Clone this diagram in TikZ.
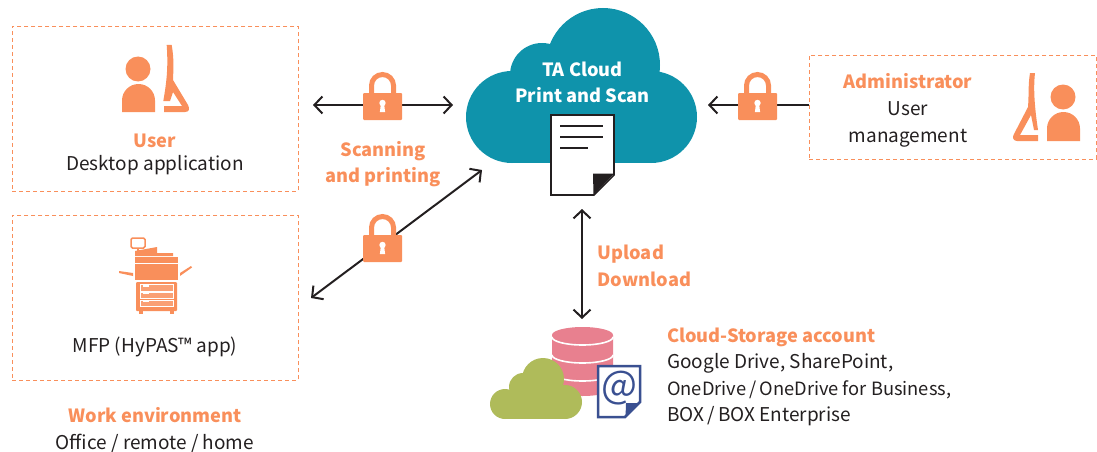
\documentclass[tikz,border=0pt]{standalone}
\usepackage{fontspec}
\setmainfont{Noto Sans CJK JP}
\usetikzlibrary{arrows.meta}
\definecolor{org}{HTML}{F98F5B}
\definecolor{tealc}{HTML}{0F93AB}
\definecolor{pinkc}{HTML}{E8808F}
\definecolor{greenc}{HTML}{AFBB5A}
\definecolor{bluec}{HTML}{3A5091}
\definecolor{inkc}{HTML}{231F20}
\newcommand{\lockicon}[2]{%
  \begin{scope}[shift={(#1,#2)}]
    \draw[org,line width=5pt] (-11,-10) -- (-11,-19.5) arc[start angle=180,end angle=360,radius=11] -- (11,-10);
    \fill[org,rounded corners=1pt] (-19.5,-12) rectangle (19.5,15);
    \fill[white] (0,-2) circle[radius=3.2];
    \fill[white] (-1.6,-1) -- (1.6,-1) -- (2.6,7) -- (-2.6,7) -- cycle;
  \end{scope}}
\tikzset{
  x=1pt,y=-1pt,
  dashbox/.style={draw=org,line width=.8pt,dash pattern=on 4pt off 3pt,fill=none},
  lbl/.style={font=\fontsize{19}{19}\selectfont,text=inkc,inner sep=0pt,anchor=base},
  head/.style={font=\fontsize{18.2}{19}\selectfont\bfseries,text=org,inner sep=0pt,anchor=base},
  linkline/.style={line width=2pt,draw=inkc},
  biarrow/.style={linkline,{Straight Barb[length=8pt,width=17pt,line width=2pt]}-{Straight Barb[length=8pt,width=17pt,line width=2pt]}},
  onearrow/.style={linkline,{Straight Barb[length=8pt,width=17pt,line width=2pt]}-},
}
\begin{document}
\begin{tikzpicture}
\useasboundingbox (0,0) rectangle (1097,452);
% dashed boxes
\node[dashbox,minimum width=286pt,minimum height=165pt,inner sep=0pt,anchor=north west] (userbox) at (12,26) {};
\node[dashbox,minimum width=286pt,minimum height=165pt,inner sep=0pt,anchor=north west] (mfpbox) at (12,215) {};
\node[dashbox,minimum width=287pt,minimum height=104pt,inner sep=0pt,anchor=north west] (adminbox) at (809,55) {};
% main cloud
\fill[tealc] (603,65) circle[radius=57];
\fill[tealc] (542,75) circle[radius=32];
\fill[tealc] (512,117) circle[radius=46];
\fill[tealc] (651,117) circle[radius=46];
\fill[tealc] (512,90) rectangle (651,163);
% connector ends
\coordinate (hl) at (313,105);
\coordinate (hr) at (453,105);
\coordinate (dl) at (311,298);
\coordinate (dr) at (482,170);
\coordinate (al) at (708,105);
\coordinate (vt) at (582,209);
\coordinate (vb) at (582,319);
\draw[biarrow] (hl) -- (hr);
\draw[biarrow] (dl) -- (dr);
\draw[onearrow] (al) -- (al -| adminbox.west);
\draw[biarrow] (vt) -- (vb);
% locks
\lockicon{382.5}{105}
\lockicon{382.5}{247}
\lockicon{757.5}{105}
% user icon
\fill[org] (138,69) circle[radius=12.5];
\fill[org] (122,112) -- (122,100.5) arc[start angle=180,end angle=360,radius=16.5] -- (155,112) -- cycle;
\fill[org] (166.7,45) -- (171.7,45) .. controls (174,58) and (173.5,68) .. (173,80) -- (188,105)
  .. controls (190,109) and (189,112) .. (185,112) -- (164,112) -- (164,106) -- (182,106) -- (173,92)
  -- (170,101) -- (163.3,101) .. controls (166,85) and (168.5,70) .. (166.7,45) -- cycle;
% admin icon
\fill[org] (1063,97) circle[radius=12.5];
\fill[org] (1047,141) -- (1047,128.5) arc[start angle=180,end angle=360,radius=16.5] -- (1080,141) -- cycle;
\fill[org] (1030,73) -- (1035,73) .. controls (1033,90) and (1035,110) .. (1038,130) -- (1034,130)
  -- (1031,115) -- (1020,135) -- (1038,135) -- (1038,141) -- (1017,141)
  .. controls (1013,141) and (1012,137) .. (1014,134) -- (1028,107) .. controls (1029,95) and (1028,85) .. (1030,73) -- cycle;
% printer icon
\draw[org,line width=1.5pt,rounded corners=1.5pt] (131,238) rectangle (145,248);
\fill[org] (137,248) rectangle (139,252);
\fill[org] (135,251) -- (157,247) -- (157,253) -- (173,253) -- (173,256) -- (135,256) -- cycle;
\fill[org] (135,257) rectangle (178,263);
\fill[org] (135,264) rectangle (178,280);
\fill[org,rounded corners=1pt] (136,282) rectangle (177,311);
\fill[org] (139,311) rectangle (143,314);
\fill[org] (170,311) rectangle (174,314);
\fill[org] (119,271) -- (133,273) -- (133,276) -- (119,273) -- cycle;
\fill[org] (180,273) -- (191,266) -- (192,267.5) -- (180,276) -- cycle;
\foreach \a/\b in {284/291,292/298,300/306}{
  \draw[white,line width=.8pt,fill=org!85!white] (140,\a) rectangle (173,\b);
}
\foreach \a in {285,292.5,300.5}{ \fill[white] (143,\a) rectangle (149,\a+1.5); }
% document
\draw[inkc,line width=1.6pt,fill=white,line join=miter] (551,115) -- (614,115) -- (614,175) -- (594,195) -- (551,195) -- cycle;
\fill[inkc] (593,173.5) -- (614,173.5) -- (593.5,195) -- cycle;
\draw[inkc,line width=1.4pt] (560,126) -- (603,126) (560,137) -- (603,137) (560,148) -- (588,148);
% database
\fill[pinkc] (552,335) -- (552,388) arc[start angle=180,end angle=0,x radius=30.5,y radius=8] -- (613,335) -- cycle;
\fill[pinkc] (582.5,335) ellipse[x radius=30.5,y radius=8];
\draw[white,line width=1.6pt] (552,337) arc[start angle=180,end angle=0,x radius=30.5,y radius=8];
\draw[white,line width=1.6pt] (552,355) arc[start angle=180,end angle=0,x radius=30.5,y radius=8];
\draw[white,line width=1.6pt] (552,373) arc[start angle=180,end angle=0,x radius=30.5,y radius=8];
% small cloud
\fill[greenc] (543,379) circle[radius=21];
\fill[greenc] (523,387) circle[radius=14];
\fill[greenc] (505,404) circle[radius=15];
\fill[greenc] (565,402) circle[radius=17];
\fill[greenc] (505,390) rectangle (565,419);
% mail document
\draw[bluec,line width=2.5pt,fill=white,line join=miter] (598,366) -- (640,366) -- (640,402) -- (625,417) -- (598,417) -- cycle;
\fill[bluec] (626,403) -- (640,403) -- (625.5,417.5) -- cycle;
\node[inner sep=0pt,text=bluec,font=\fontsize{38}{38}\selectfont] (at) at (619,388) {@};
% texts
\node[head] (t1) at (155,147.5) {User};
\node[lbl] (t2) at (155,170) {Desktop application};
\node[lbl] (t3) at (155,352) {MFP (HyPAS™ app)};
\node[head] (t4) at (155,422.5) {Work environment};
\node[lbl] (t5) at (155,449.5) {Office / remote / home};
\node[head] (t6) at (383,156.5) {Scanning};
\node[head] (t7) at (383,182.5) {and printing};
\node[head,text=white] (t8) at (582.5,76) {TA Cloud};
\node[head,text=white] (t9) at (582.5,102) {Print and Scan};
\node[head] (t10) at (908,88.5) {Administrator};
\node[lbl] (t11) at (908,115) {User};
\node[lbl] (t12) at (908,142) {management};
\node[head,anchor=base west] (t13) at (597.5,259) {Upload};
\node[head,anchor=base west] (t14) at (597.5,286) {Download};
\node[head,anchor=base west] (t15) at (667,342.5) {Cloud-Storage account};
\node[lbl,anchor=base west] (t16) at (667,368) {Google Drive, SharePoint,};
\node[lbl,anchor=base west,font=\fontsize{18.3}{19}\selectfont] (t17) at (667,395) {OneDrive\,/\,OneDrive for Business,};
\node[lbl,anchor=base west] (t18) at (667,421) {BOX\,/\,BOX Enterprise};
\end{tikzpicture}
\end{document}
